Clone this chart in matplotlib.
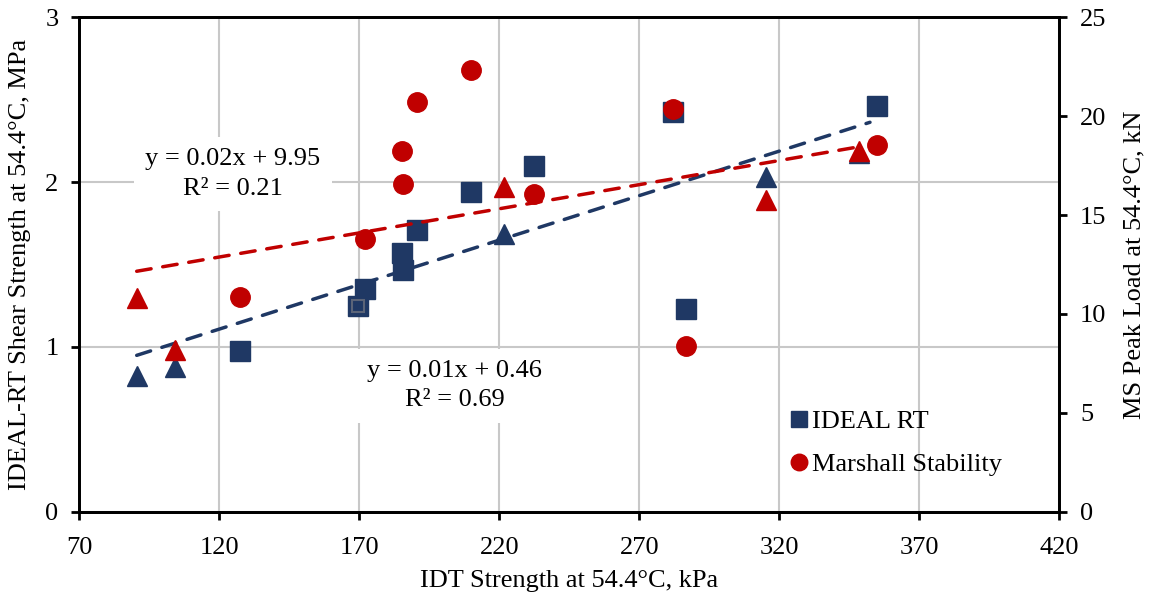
import numpy as np
import matplotlib
matplotlib.use("Agg")
import matplotlib.pyplot as plt

plt.rcParams['font.family'] = ['Liberation Serif', 'DejaVu Serif']

# IDEAL RT (left axis, MPa) - squares
rt_x = [127.4, 169.6, 172.0, 185.1, 185.7, 190.5, 209.8, 232.3, 282.1, 286.8, 355.0]
rt_y = [0.973, 1.247, 1.353, 1.567, 1.466, 1.709, 1.940, 2.095, 2.423, 1.231, 2.460]
# extra mixes (triangles), same two measurements
tri_x = [90.5, 104.2, 221.7, 315.3, 348.6]
tri_rt = [0.821, 0.881, 1.683, 2.028, 2.176]
tri_ms = [10.82, 8.20, 16.44, 15.76, 18.25]
# Marshall Stability (right axis, kN) - circles
ms_x = [127.4, 172.0, 185.1, 185.7, 190.7, 209.8, 232.3, 282.1, 286.8, 355.0]
ms_y = [10.87, 13.81, 18.25, 16.59, 20.70, 22.35, 16.04, 20.36, 8.36, 18.54]

# trendlines: slope, intercept, x-range
rt_trend = (0.0054, 0.46, 90.5, 352.4)
ms_trend = (0.0244, 9.95, 90.5, 348.6)

navy = '#1F3864'
red = '#C00000'
fs = 19

fig = plt.figure(figsize=(11.51, 6.01), dpi=100)
ax = fig.add_axes([0.0689, 0.1486, 0.8514, 0.8226])
ax2 = ax.twinx()

ax.set_xlim(70, 420)
ax.set_ylim(0, 3)
ax2.set_ylim(0, 25)
ax.set_xticks(np.arange(70, 421, 50))
ax.set_yticks([0, 1, 2, 3])
ax2.set_yticks(np.arange(0, 26, 5))

ax.grid(True, color='#c8c8c8', lw=1.5)
ax.set_axisbelow(True)
for a in (ax, ax2):
    for s in a.spines.values():
        s.set_linewidth(2)
        s.set_color('black')
    a.tick_params(direction='out', length=6, width=2, labelsize=fs, pad=9)
ax.tick_params(axis='x', pad=12)

# left axis points
ax.plot(rt_x, rt_y, 's', color=navy, ms=14, ls='none', label='IDEAL RT', zorder=3)
ax.plot(rt_x[1], rt_y[1], 's', mfc='none', mec='#5b6478', mew=1.5, ms=9, zorder=3)
ax.plot(tri_x, tri_rt, '^', color=navy, ms=14, ls='none', zorder=3)
a, b, x0, x1 = rt_trend
xx = np.array([x0, x1])
ax.plot(xx, a * xx + b, color=navy, lw=2.5, dashes=(4.2, 3.4),
        dash_capstyle='round', zorder=4)

# right axis points
ax2.plot(ms_x, ms_y, 'o', color=red, ms=14, ls='none', label='Marshall Stability', zorder=3)
ax2.plot(tri_x, tri_ms, '^', color=red, ms=14, ls='none', zorder=3)
a, b, x0, x1 = ms_trend
xx = np.array([x0, x1])
ax2.plot(xx, a * xx + b, color=red, lw=2.5, dashes=(4.2, 3.4),
         dash_capstyle='round', zorder=4)

ax2.text(124.9, 2.05, 'y = 0.02x + 9.95\nR² = 0.21', fontsize=fs,
         ha='center', va='center', linespacing=1.45, transform=ax.transData,
         bbox=dict(fc='white', ec='none', pad=8), zorder=5)
ax2.text(204.0, 0.765, 'y = 0.01x + 0.46\nR² = 0.69', fontsize=fs,
         ha='center', va='center', linespacing=1.45, transform=ax.transData,
         bbox=dict(fc='white', ec='none', pad=8), zorder=5)

ax.set_xlabel('IDT Strength at 54.4°C, kPa', fontsize=fs, labelpad=8)
ax.set_ylabel('IDEAL-RT Shear Strength at 54.4°C, MPa', fontsize=fs, labelpad=10)
ax2.set_ylabel('MS Peak Load at 54.4°C, kN', fontsize=fs, labelpad=12)

h1, l1 = ax.get_legend_handles_labels()
h2, l2 = ax2.get_legend_handles_labels()
leg = ax2.legend(h1 + h2, l1 + l2, loc='upper left', bbox_to_anchor=(0.726, 0.207),
                 frameon=False, fontsize=fs, handlelength=0.6, handletextpad=0.2,
                 borderpad=0, borderaxespad=0, labelspacing=0.75, markerscale=0.85)

fig.savefig('out.png', dpi=100)
